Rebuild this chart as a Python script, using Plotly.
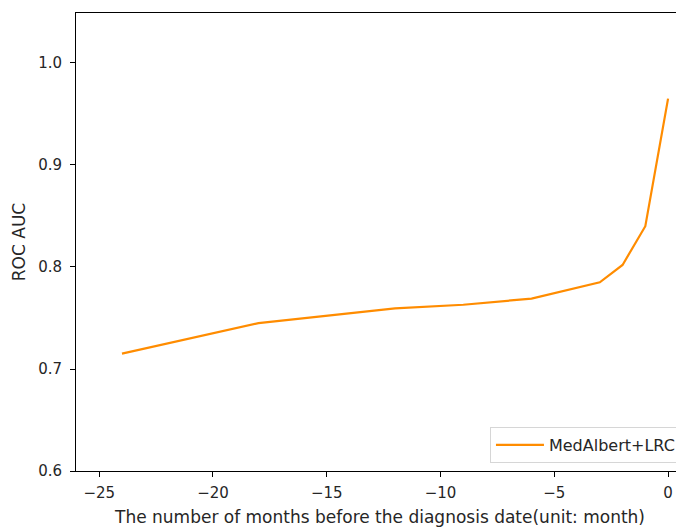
import plotly.graph_objects as go

months = [-24, -18, -12, -9, -6, -3, -2, -1, 0]
auc = [0.715, 0.745, 0.7595, 0.763, 0.769, 0.785, 0.802, 0.84, 0.965]
series_name = "MedAlbert+LRC"

x_tickvals = [-25, -20, -15, -10, -5, 0]
x_ticktext = ["\u221225", "\u221220", "\u221215", "\u221210", "\u22125", "0"]
y_tickvals = [0.6, 0.7, 0.8, 0.9, 1.0]
y_ticktext = ["0.6", "0.7", "0.8", "0.9", "1.0"]

tick_font = dict(family="DejaVu Sans", size=15, color="#262626")
title_font = dict(family="DejaVu Sans", size=17, color="#262626")

fig = go.Figure()
fig.add_trace(go.Scatter(
    x=months, y=auc, mode="lines", name=series_name,
    line=dict(color="#ff8c00", width=2.2),
    showlegend=True,
))

fig.update_layout(
    width=676, height=519,
    margin=dict(l=68, r=0, t=5, b=56),
    paper_bgcolor="white", plot_bgcolor="white",
    font=tick_font,
    showlegend=True,
    legend=dict(
        x=0.995, y=0.0175, xanchor="right", yanchor="bottom",
        bordercolor="#d6d6d6", borderwidth=1, bgcolor="rgba(255,255,255,0.8)",
        font=dict(family="DejaVu Sans", size=16, color="#262626"),
        itemwidth=48,
    ),
    xaxis=dict(
        range=[-26.02, 0.70],
        tickvals=x_tickvals, ticktext=x_ticktext, tickfont=tick_font,
        ticks="outside", ticklen=5, tickwidth=1, tickcolor="black",
        ticklabelstandoff=3,
        showline=True, linecolor="black", linewidth=1, mirror=True,
        showgrid=False, zeroline=False,
        title=dict(text="The number of months before the diagnosis date(unit: month)",
                   font=title_font, standoff=10),
    ),
    yaxis=dict(
        range=[0.6, 1.049],
        tickvals=y_tickvals, ticktext=y_ticktext, tickfont=tick_font,
        ticks="outside", ticklen=5, tickwidth=1, tickcolor="black",
        ticklabelstandoff=5,
        showline=True, linecolor="black", linewidth=1, mirror=True,
        showgrid=False, zeroline=False,
        title=dict(text="ROC AUC", font=title_font, standoff=8),
    ),
)

fig.write_html("out.html")
